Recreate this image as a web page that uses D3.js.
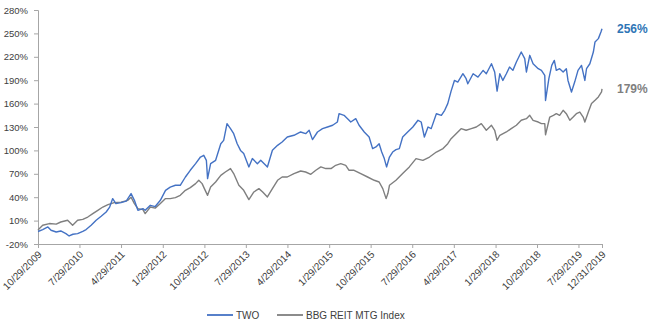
<!DOCTYPE html>
<html><head><meta charset="utf-8">
<script src="https://cdn.jsdelivr.net/npm/d3@7"></script>
<style>
html,body{margin:0;padding:0;background:#fff;}
svg{display:block;font-family:"Liberation Sans",Arial,sans-serif;}
</style></head>
<body><svg id="chart" width="650" height="327"></svg>
<script>
const seriesNames = ["TWO", "BBG REIT MTG Index"];
const endLabels = ["256%", "179%"];
const yTickValues = [-20, 10, 40, 70, 100, 130, 160, 190, 220, 250, 280];
const xTickLabels = ["10/29/2009","7/29/2010","4/29/2011","1/29/2012","10/29/2012","7/29/2013","4/29/2014","1/29/2015","10/29/2015","7/29/2016","4/29/2017","1/29/2018","10/29/2018","7/29/2019","12/31/2019"];

const twoDates = ["2009-10-29","2009-11-29","2010-01-02","2010-01-23","2010-02-26","2010-03-28","2010-05-01","2010-05-22","2010-06-16","2010-07-17","2010-08-20","2010-09-11","2010-10-14","2010-11-16","2010-12-19","2011-01-21","2011-02-13","2011-03-05","2011-03-26","2011-04-29","2011-06-02","2011-07-04","2011-07-26","2011-08-18","2011-09-20","2011-10-05","2011-11-08","2011-12-10","2012-01-13","2012-02-16","2012-03-18","2012-04-21","2012-05-23","2012-06-26","2012-07-28","2012-09-01","2012-10-03","2012-10-25","2012-11-11","2012-11-19","2012-12-09","2013-01-11","2013-02-14","2013-03-05","2013-03-27","2013-04-19","2013-05-10","2013-06-02","2013-06-24","2013-07-15","2013-08-18","2013-09-10","2013-10-13","2013-11-04","2013-12-07","2013-12-18","2014-01-20","2014-02-23","2014-03-25","2014-04-28","2014-06-11","2014-07-25","2014-08-27","2014-09-19","2014-10-11","2014-11-13","2014-12-16","2015-01-18","2015-02-21","2015-03-24","2015-04-04","2015-05-07","2015-06-09","2015-06-20","2015-07-23","2015-08-14","2015-09-17","2015-10-19","2015-11-11","2015-12-03","2015-12-24","2016-01-10","2016-01-27","2016-02-11","2016-03-01","2016-03-22","2016-04-13","2016-05-05","2016-05-27","2016-06-29","2016-08-02","2016-09-05","2016-09-26","2016-10-17","2016-11-10","2016-12-01","2017-01-04","2017-02-06","2017-02-28","2017-03-20","2017-04-11","2017-05-03","2017-05-25","2017-06-28","2017-07-19","2017-07-30","2017-09-03","2017-10-05","2017-11-08","2017-11-29","2018-01-02","2018-01-23","2018-02-08","2018-02-26","2018-03-18","2018-04-10","2018-05-01","2018-05-23","2018-06-15","2018-07-17","2018-08-09","2018-08-20","2018-09-11","2018-10-03","2018-11-06","2018-11-27","2018-12-19","2018-12-24","2019-01-15","2019-02-03","2019-02-20","2019-03-05","2019-03-27","2019-04-19","2019-05-10","2019-05-21","2019-06-13","2019-07-04","2019-07-26","2019-08-18","2019-09-09","2019-09-20","2019-10-12","2019-11-04","2019-11-15","2019-12-07","2019-12-24","2019-12-31"];
const twoValues = [-4,-1.5,1.8,-2.4,-4.6,-3.3,-6.7,-9.7,-7.5,-6.7,-3.7,-1.5,4,10.4,15.5,21,27.4,38.2,31.8,33,35,44.6,36,23.2,25.4,23.2,29.6,28,36,48.8,53,55.3,55.3,65.9,74.5,83,91.5,93.7,87.3,63.8,83,87.3,108.6,112.9,134.3,127.9,121.4,108.6,100,95.9,78.8,89.5,83,87.3,80.9,78.8,100.1,106.5,110.8,117.2,119.4,123.6,121.5,125.8,113.8,123.6,127.9,130,132.2,136.4,147.1,145,138.6,136.4,140.7,132.2,123.6,117.2,102.3,104.4,108.6,97.9,89.5,78.8,91.5,97.9,101,102.3,117.2,123.6,130,138.6,136.4,117.2,130,127.9,147,145,151.4,160,176,189.7,187.6,198.3,191.9,185.4,198.3,194,202.6,198.3,211.1,200.5,176,198.3,189.7,198.3,206.9,202.6,213.3,226.2,217.6,200.5,221.9,211.1,204.8,202.6,196.2,164,191.9,209,215.4,202.6,204.7,200.5,204.8,189.7,174.9,187.6,202.6,209,189.7,204.7,211.1,226.1,239,243.3,251.8,256];

const mtgDates = ["2009-10-29","2009-11-29","2010-01-12","2010-02-26","2010-03-28","2010-05-12","2010-06-14","2010-07-17","2010-08-20","2010-09-22","2010-10-25","2010-11-27","2010-12-30","2011-02-02","2011-03-15","2011-04-29","2011-06-13","2011-07-04","2011-07-26","2011-08-18","2011-09-20","2011-10-05","2011-11-08","2011-12-10","2012-01-13","2012-02-16","2012-03-18","2012-04-21","2012-05-23","2012-06-26","2012-07-28","2012-09-01","2012-09-22","2012-10-14","2012-10-29","2012-11-19","2012-12-09","2013-01-11","2013-02-14","2013-03-16","2013-04-19","2013-05-10","2013-06-13","2013-07-15","2013-08-18","2013-09-20","2013-10-23","2013-11-17","2013-12-18","2014-01-20","2014-02-23","2014-03-25","2014-04-28","2014-06-11","2014-07-25","2014-08-27","2014-09-30","2014-11-02","2014-12-05","2015-01-07","2015-02-10","2015-03-13","2015-04-15","2015-05-18","2015-06-09","2015-07-12","2015-08-25","2015-10-09","2015-11-22","2015-12-24","2016-01-17","2016-02-08","2016-02-20","2016-03-01","2016-04-13","2016-05-27","2016-07-10","2016-08-23","2016-10-07","2016-11-20","2017-01-04","2017-02-17","2017-03-20","2017-04-11","2017-05-14","2017-06-16","2017-07-19","2017-08-22","2017-09-24","2017-10-27","2017-11-29","2018-01-02","2018-01-23","2018-02-08","2018-02-26","2018-04-10","2018-05-12","2018-06-15","2018-07-17","2018-08-20","2018-09-11","2018-10-03","2018-11-06","2018-11-27","2018-12-19","2018-12-24","2019-01-21","2019-02-14","2019-03-05","2019-03-27","2019-04-19","2019-05-10","2019-06-02","2019-06-24","2019-07-15","2019-08-07","2019-08-29","2019-09-09","2019-10-02","2019-10-23","2019-11-15","2019-12-07","2019-12-28","2019-12-31"];
const mtgValues = [-2,4,6.2,5.5,8.2,10.4,4,10.4,11.5,14.6,19,23.2,27.4,30.5,33,33.7,36,40,31.8,25.4,24,19,27.4,26,31.8,38.2,38.2,39.5,42.4,48.8,52.3,57.4,61.7,57.4,51,42.4,53,59.5,68,72.3,76.7,70.3,55.3,48.8,37,46.7,51,46.7,40.3,51,61.7,65.9,65.9,70.3,73.6,72.3,69.4,74.5,78.8,76.7,76.7,80.9,83,80.9,74.5,74.5,70.2,65.9,61.7,59.5,51,38.2,45,55.3,61.7,70.3,78.8,89.5,87.3,91.5,97.9,102.3,108.6,115,121.4,127.9,125.8,127.9,130,134.3,125.8,132.2,125.8,113,119.4,123.6,127.9,132.2,138.6,140.7,145,138.6,136.4,134.3,134.3,120,142.8,145,147.1,145,151.4,147.1,138.6,142.8,147.1,149.2,142.8,136.4,149.2,160,164.2,168.5,174.9,179];

const lineColors = ["#4472C4", "#7F7F7F"];
const labelColors = ["#2E75B6", "#7F7F7F"];

const parseISO = d3.timeParse("%Y-%m-%d");
const parseTick = d3.timeParse("%m/%d/%Y");
const svg = d3.select("#chart");
const plotLeft = 38, plotRight = 602, plotTop = 10, plotBottom = 244;

const x = d3.scaleTime()
  .domain([parseTick(xTickLabels[0]), parseTick(xTickLabels[xTickLabels.length - 1])])
  .range([plotLeft, plotRight]);
const y = d3.scaleLinear().domain([-20, 280]).range([plotBottom, plotTop]);

// Y axis
const yAxis = svg.append("g").attr("transform", `translate(${plotLeft},0)`)
  .call(d3.axisLeft(y).tickValues(yTickValues).tickFormat(d => d + "%").tickSize(4).tickPadding(6));
yAxis.select(".domain").attr("stroke", "#A6A6A6");
yAxis.selectAll(".tick line").attr("stroke", "#A6A6A6");
yAxis.selectAll(".tick text").attr("fill", "#404040").style("font-size", "9.5px")
  .style("font-family", "'Liberation Sans', Arial, sans-serif");

// X axis
const xTickDates = xTickLabels.map(parseTick);
const xAxis = svg.append("g").attr("transform", `translate(0,${plotBottom})`)
  .call(d3.axisBottom(x).tickValues(xTickDates).tickFormat((d, i) => xTickLabels[i]).tickSize(4).tickSizeOuter(0));
xAxis.select(".domain").attr("stroke", "#A6A6A6");
xAxis.selectAll(".tick line").attr("stroke", "#A6A6A6");
xAxis.selectAll(".tick text")
  .attr("fill", "#404040")
  .style("font-size", "10px")
  .style("font-family", "'Liberation Sans', Arial, sans-serif")
  .attr("text-anchor", "end")
  .attr("dy", null)
  .attr("y", 0)
  .attr("transform", "translate(4,11) rotate(-45)");

// Lines
const data = [
  twoDates.map((d, i) => ({ date: parseISO(d), value: twoValues[i] })),
  mtgDates.map((d, i) => ({ date: parseISO(d), value: mtgValues[i] }))
];
const line = d3.line().x(d => x(d.date)).y(d => y(d.value));
[1, 0].forEach(k => {
  svg.append("path").datum(data[k])
    .attr("fill", "none").attr("stroke", lineColors[k])
    .attr("stroke-width", 1.4).attr("stroke-linejoin", "round")
    .attr("d", line);
});

// End labels
[0, 1].forEach(k => {
  const last = data[k][data[k].length - 1];
  svg.append("text")
    .attr("x", 617).attr("y", y(last.value) + 4)
    .attr("fill", labelColors[k])
    .style("font-size", "12px").style("font-weight", "bold")
    .text(endLabels[k]);
});

// Legend
const legendItems = [{ x: 207, tx: 236 }, { x: 277, tx: 306 }];
legendItems.forEach((it, k) => {
  svg.append("line").attr("x1", it.x).attr("x2", it.x + 26)
    .attr("y1", 315).attr("y2", 315)
    .attr("stroke", lineColors[k]).attr("stroke-width", 1.8);
  svg.append("text").attr("x", it.tx).attr("y", 318.5)
    .attr("fill", "#404040").style("font-size", "10px")
    .text(seriesNames[k]);
});
</script></body></html>
